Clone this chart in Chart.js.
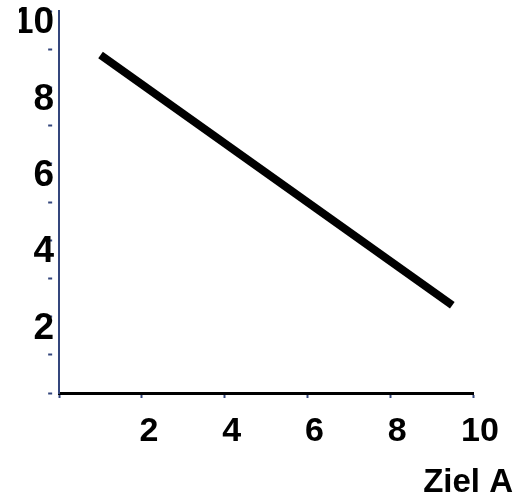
<!DOCTYPE html>
<html>
<head>
<meta charset="utf-8">
<script src="https://cdn.jsdelivr.net/npm/chart.js@4/dist/chart.umd.min.js"></script>
<style>
  html, body { margin: 0; padding: 0; background: #fff; }
  #wrap { width: 515px; height: 499px; }
</style>
</head>
<body>
<div id="wrap"><canvas id="myChart" width="515" height="499"></canvas></div>
<script>
// line endpoints
const lineX = [1, 9.5];
const lineY = [8.85, 2.3];
const axisTitle = "Ziel A";

const navy = "#34467c";

let points = [];
for (let i = 0; i < lineX.length; i++) {
    points.push({x: lineX[i], y: lineY[i]});
}

const canvas = document.getElementById("myChart");

let myChart = new Chart(canvas, {
    type: "scatter",
    data: {
        datasets: [{
            data: points,
            showLine: true,
            borderColor: "#000",
            borderWidth: 8,
            borderCapStyle: "butt",
            pointRadius: 0,
            fill: false
        }]
    },
    options: {
        responsive: false,
        animation: false,
        layout: {padding: {left: 19, right: 2, top: 11, bottom: 0}},
        plugins: {
            legend: {display: false},
            tooltip: {enabled: false},
            title: {
                display: true,
                text: axisTitle,
                position: "bottom",
                align: "end",
                color: "#000",
                font: {family: "Liberation Sans", size: 33, weight: "bold", lineHeight: 1.0},
                padding: {top: 0, bottom: 0}
            }
        },
        scales: {
            x: {
                type: "linear",
                min: 0,
                max: 10,
                border: {color: "#000", width: 3},
                grid: {drawOnChartArea: false, tickLength: 5, tickColor: navy, tickWidth: 2},
                ticks: {
                    stepSize: 2,
                    color: "#000",
                    padding: 17,
                    labelOffset: 7,
                    maxRotation: 0,
                    font: {family: "Liberation Sans", size: 34, weight: "bold", lineHeight: 1.0},
                    callback: (v) => v === 0 ? "" : v
                }
            },
            y: {
                type: "linear",
                min: 0,
                max: 10,
                border: {color: navy, width: 2},
                grid: {drawOnChartArea: false, tickLength: 11, tickColor: navy, tickWidth: 2, tickBorderDash: [4, 20]},
                ticks: {
                    stepSize: 1,
                    color: "#000",
                    padding: -6,
                    labelOffset: 12,
                    font: {family: "Liberation Sans", size: 37, weight: "bold", lineHeight: 0.6},
                    callback: (v) => (v % 2 === 0 && v !== 0) ? v : ""
                }
            },
            y2: {
                position: "right",
                display: true,
                border: {display: false},
                grid: {display: false},
                ticks: {display: false},
                afterFit: (scale) => { scale.width = 40; }
            }
        }
    }
});
</script>
</body>
</html>
